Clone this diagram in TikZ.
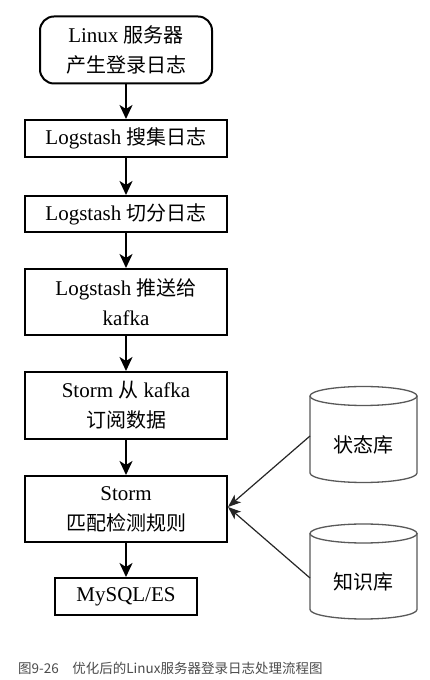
\documentclass[tikz,border=0pt]{standalone}
\usepackage{fontspec}
\setmainfont{Liberation Serif}
\newfontfamily\cjk{Noto Sans CJK SC}
\usetikzlibrary{arrows.meta}
\tikzset{
  box/.style={draw=black, line width=2pt, minimum width=202pt, align=center,
    inner sep=0pt, font=\fontsize{21}{30}\selectfont},
  flow/.style={draw=black, line width=2pt, -{Stealth[length=14pt,width=13pt,inset=4pt]}},
  side/.style={draw=black!85, line width=1.2pt, -{Stealth[length=13pt,width=10pt,inset=3.5pt]}},
  cyl/.style={draw=black!65, line width=1.3pt},
  cyltext/.style={font=\cjk\fontsize{20}{24}\selectfont, inner sep=0pt},
}
\begin{document}
\begin{tikzpicture}[x=1pt,y=1pt]
\useasboundingbox[fill=white] (0,0) rectangle (430,680);
% flow boxes
\node[box, rounded corners=14pt, minimum width=172pt, minimum height=67pt] (n1) at (126,630)
  {Linux {\cjk\fontsize{20}{30}\selectfont 服务器}\\{\cjk\fontsize{20}{30}\selectfont 产生登录日志}};
\node[box, minimum height=37pt] (n2) at (126,541.5)
  {Logstash {\cjk\fontsize{20}{30}\selectfont 搜集日志}};
\node[box, minimum height=36pt] (n3) at (126,466)
  {Logstash {\cjk\fontsize{20}{30}\selectfont 切分日志}};
\node[box, minimum height=66pt] (n4) at (126,378)
  {Logstash {\cjk\fontsize{20}{30}\selectfont 推送给}\\kafka};
\node[box, minimum height=67pt] (n5) at (126,274.5)
  {Storm {\cjk\fontsize{20}{30}\selectfont 从} kafka\\{\cjk\fontsize{20}{30}\selectfont 订阅数据}};
\node[box, minimum height=66pt] (n6) at (126,171)
  {Storm\\{\cjk\fontsize{20}{30}\selectfont 匹配检测规则}};
\node[box, minimum width=142pt, minimum height=37pt] (n7) at (126,83.5)
  {MySQL/ES};
% connectors
\draw[flow] (n1) -- (n2);
\draw[flow] (n2) -- (n3);
\draw[flow] (n3) -- (n4);
\draw[flow] (n4) -- (n5);
\draw[flow] (n5) -- (n6);
\draw[flow] (n6) -- (n7);
% cylinder 1
\draw[cyl] (363.5,284) ellipse[x radius=53.5pt, y radius=9.5pt];
\draw[cyl] (310,284) -- (310,207) arc[start angle=180, end angle=360, x radius=53.5pt, y radius=9.5pt] -- (417,284);
\node[cyltext] (c1) at (363.5,235) {状态库};
% cylinder 2
\draw[cyl] (363.5,146.5) ellipse[x radius=53.5pt, y radius=9.5pt];
\draw[cyl] (310,146.5) -- (310,70.5) arc[start angle=180, end angle=360, x radius=53.5pt, y radius=9.5pt] -- (417,146.5);
\node[cyltext] (c2) at (363.5,98) {知识库};
\coordinate (s1) at (310,244);
\coordinate (s2) at (310,102);
\draw[side] (s1) -- ([yshift=2pt]n6.east);
\draw[side] (s2) -- ([yshift=2pt]n6.east);
% caption
\node[anchor=west, inner sep=0pt, text=black!70, font=\cjk\fontsize{13.5}{16}\selectfont] (cap) at (18,12)
  {图9-26\hspace{1em}优化后的Linux服务器登录日志处理流程图};
\end{tikzpicture}
\end{document}
